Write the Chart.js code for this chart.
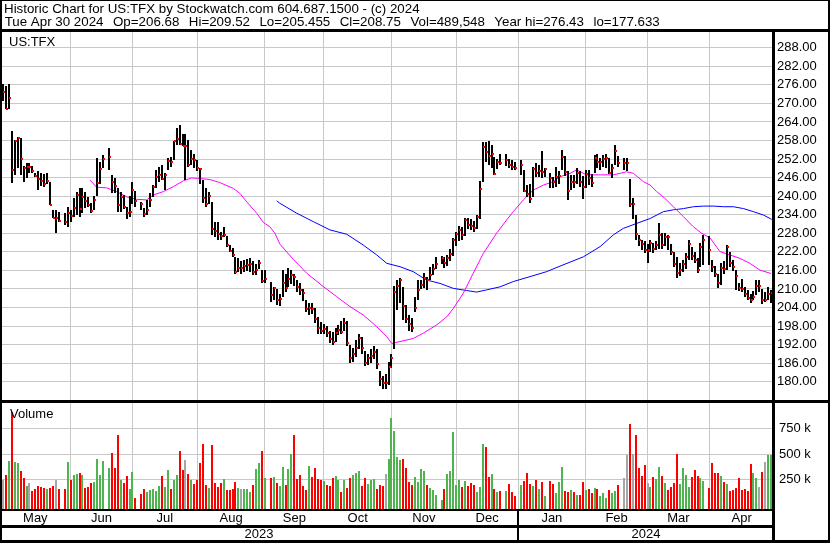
<!DOCTYPE html>
<html>
<head>
<meta charset="utf-8">
<script src="https://cdn.jsdelivr.net/npm/chart.js@4"></script>
<style>
  body { margin: 0; background: #fff; }
  #wrap { width: 830px; height: 543px; }
</style>
</head>
<body>
<div id="wrap"><canvas id="chart" width="830" height="543"></canvas></div>
<script>
// ---- header text ----
const headerLine1 = 'Historic Chart for US:TFX by Stockwatch.com 604.687.1500 - (c) 2024';
const headerFields = ['Tue Apr 30 2024', 'Op=206.68', 'Hi=209.52', 'Lo=205.455', 'Cl=208.75', 'Vol=489,548', 'Year hi=276.43', 'lo=177.633'];
const symbolLabel = 'US:TFX';
const volumeLabel = 'Volume';

// ---- calendar (one slot per weekday, holidays stay empty) ----
const firstDay = '2023-05-01';
const lastDay = '2024-04-30';
const holidays = ['2023-05-29', '2023-06-19', '2023-07-04', '2023-09-04', '2023-11-23',
  '2023-12-25', '2024-01-01', '2024-01-15', '2024-02-19', '2024-03-29'];
const monthNames = ['May', 'Jun', 'Jul', 'Aug', 'Sep', 'Oct', 'Nov', 'Dec', 'Jan', 'Feb', 'Mar', 'Apr'];
const yearNames = ['2023', '2024'];

// ---- daily values, one per trading day ----
const closes = [
  // May
  273.8, 268.3, 271.9, 248.6, 257.8, 258.9, 251.9, 249.2, 249.4, 249.4, 248.3, 246.6, 245.6, 245.0, 243.9, 245.0, 237.2, 233.0, 233.0, 232.0, 231.5, 234.7,
  // Jun
  233.7, 236.3, 240.5, 235.9, 239.9, 238.6, 237.0, 235.3, 238.8, 244.4, 248.7, 252.1, 252.8, 244.6, 243.3, 237.3, 239.6, 236.6, 234.5, 235.0, 242.0,
  // Jul
  238.6, 237.5, 234.2, 235.5, 238.8, 242.9, 246.3, 246.9, 245.7, 246.9, 251.5, 251.2, 257.8, 258.5, 256.9, 256.2, 256.2, 250.0, 252.1, 251.7,
  // Aug
  249.2, 248.7, 239.3, 237.5, 240.2, 229.4, 228.9, 227.7, 227.2, 227.6, 224.3, 222.4, 221.1, 215.5, 216.9, 216.9, 217.5, 217.8, 218.2, 215.6, 216.0, 218.5, 212.6,
  // Sep
  213.2, 208.1, 210.2, 206.4, 206.8, 211.8, 210.2, 213.3, 214.5, 213.8, 210.5, 209.7, 208.8, 203.4, 204.0, 203.4, 200.2, 197.5, 196.3, 196.9,
  // Oct
  195.9, 193.7, 193.0, 195.9, 196.7, 196.0, 199.1, 192.4, 187.6, 189.0, 191.0, 194.2, 190.8, 186.2, 187.7, 188.2, 189.7, 185.6, 181.0, 179.5, 179.5, 184.9,
  // Nov
  187.6, 209.1, 211.1, 212.9, 204.5, 200.4, 198.6, 197.5, 204.0, 209.7, 211.3, 213.7, 212.9, 214.5, 216.5, 218.1, 219.9, 218.5, 219.9, 221.2, 225.8,
  // Dec
  227.8, 229.07, 227.45, 232.3, 230.8, 230.5, 229.8, 233.2, 242.4, 256.0, 254.4, 253.0, 253.6, 247.2, 251.2, 250.8, 251.7, 250.1, 249.6, 249.2,
  // Jan
  250.1, 241.8, 240.7, 239.1, 248.9, 247.6, 248.2, 247.9, 248.8, 245.8, 244.5, 246.3, 246.4, 252.6, 247.9, 241.8, 244.7, 244.5, 247.4, 244.7, 242.9,
  // Feb
  247.2, 245.8, 244.2, 252.4, 251.0, 251.2, 252.1, 252.5, 247.6, 249.0, 254.7, 250.6, 250.6, 250.6, 237.5, 237.5, 227.8, 225.8, 224.5, 222.6,
  // Mar
  222.6, 224.8, 223.0, 224.2, 227.5, 224.2, 226.9, 226.7, 222.1, 218.1, 215.3, 216.1, 218.0, 220.4, 224.5, 220.8, 219.4, 216.1, 223.7, 225.8,
  // Apr
  222.6, 217.2, 214.8, 211.8, 216.7, 216.4, 223.7, 218.3, 217.0, 214.2, 210.4, 209.9, 208.4, 207.2, 206.4, 207.5, 211.1, 211.1, 206.4, 206.4, 208.4, 208.75
];
const highs = [
  276.43, 275.6, 276.3, 261.1, 258.2, 259.3, 258.9, 249.8, 250.8, 250.6, 249.8, 247.6, 248.1, 247.4, 247.1, 247.4, 244.7, 235.7, 235.5, 235.0, 234.7, 236.6,
  235.5, 239.3, 241.5, 242.8, 242.8, 241.5, 239.8, 237.7, 240.1, 252.2, 251.0, 253.3, 255.5, 246.9, 246.0, 242.5, 241.5, 240.4, 236.6, 240.0, 244.6,
  241.8, 238.2, 236.1, 238.8, 240.9, 243.6, 248.5, 249.5, 250.1, 247.4, 252.2, 252.8, 257.8, 262.0, 263.0, 260.1, 260.1, 258.2, 255.0, 253.6,
  251.7, 249.0, 245.2, 242.5, 241.2, 238.2, 231.5, 231.5, 228.5, 229.9, 227.0, 224.2, 223.2, 220.4, 219.9, 219.0, 219.5, 219.8, 220.0, 219.0, 218.0, 219.5, 216.1,
  216.1, 212.4, 210.7, 210.0, 208.5, 216.0, 215.0, 216.7, 216.0, 215.0, 213.0, 211.8, 210.0, 206.4, 205.4, 205.5, 203.8, 201.0, 199.2, 198.6,
  198.0, 196.5, 196.0, 197.5, 198.5, 199.5, 200.5, 199.5, 192.0, 191.0, 193.5, 195.3, 194.5, 190.0, 189.0, 190.5, 191.5, 190.5, 183.5, 182.0, 182.5, 186.5,
  189.0, 211.0, 212.9, 213.4, 210.7, 204.8, 201.6, 200.5, 207.5, 212.9, 212.8, 215.3, 214.0, 217.2, 218.2, 220.3, 220.8, 220.2, 221.0, 223.0, 226.5,
  228.5, 230.5, 230.0, 233.0, 233.0, 232.5, 232.0, 234.0, 245.0, 257.6, 257.6, 257.9, 256.6, 252.8, 251.9, 253.5, 253.5, 251.9, 251.7, 251.2,
  251.7, 248.5, 243.6, 243.9, 249.5, 250.6, 250.1, 254.7, 249.0, 247.4, 246.3, 249.5, 248.0, 255.0, 253.0, 248.0, 247.0, 247.0, 249.0, 248.0, 246.5,
  248.5, 248.5, 247.2, 253.3, 253.5, 252.5, 253.3, 253.5, 252.2, 250.5, 256.5, 253.0, 252.5, 252.5, 245.5, 239.5, 234.0, 227.5, 226.0, 225.5,
  224.5, 226.0, 225.0, 225.5, 231.2, 228.0, 228.0, 227.5, 224.5, 221.8, 220.5, 218.5, 219.5, 221.5, 225.8, 223.5, 222.0, 220.0, 224.8, 227.5,
  227.0, 219.5, 217.3, 215.0, 218.5, 219.0, 224.2, 222.0, 219.5, 216.0, 212.0, 213.3, 210.6, 209.8, 208.5, 209.5, 212.8, 212.8, 210.0, 209.0, 210.7, 209.52
];
const lows = [
  270.9, 268.1, 268.3, 244.4, 246.9, 249.0, 246.9, 244.7, 245.8, 247.4, 247.4, 246.3, 242.0, 243.3, 243.1, 244.1, 237.0, 232.8, 228.0, 231.8, 230.7, 230.1,
  231.7, 233.4, 233.9, 233.4, 234.5, 236.1, 236.6, 234.5, 235.5, 240.1, 244.0, 249.0, 248.5, 240.9, 240.9, 235.0, 235.0, 236.0, 232.5, 233.4, 237.5,
  236.6, 235.5, 233.4, 233.9, 236.6, 239.8, 242.5, 244.7, 245.3, 242.0, 248.5, 249.5, 251.7, 256.6, 256.6, 256.2, 245.2, 249.5, 250.1, 249.0,
  248.0, 244.1, 237.7, 236.6, 237.5, 227.5, 226.9, 225.8, 225.8, 226.9, 223.7, 221.8, 220.5, 215.0, 215.6, 215.0, 215.6, 215.8, 215.5, 214.5, 214.5, 216.5, 211.8,
  211.8, 205.9, 206.4, 204.8, 204.5, 207.5, 209.0, 210.5, 211.5, 210.9, 209.0, 208.0, 206.0, 202.5, 201.5, 201.8, 199.0, 195.5, 195.6, 195.3,
  194.5, 192.5, 192.0, 193.0, 195.0, 195.5, 196.5, 191.5, 186.0, 186.5, 188.0, 190.5, 189.0, 185.0, 185.5, 186.0, 187.5, 184.0, 178.5, 177.8, 177.633, 179.0,
  184.5, 190.5, 203.2, 205.4, 200.0, 198.9, 196.5, 196.0, 202.7, 206.4, 210.1, 210.3, 209.7, 213.0, 214.5, 216.5, 218.0, 216.8, 217.5, 219.2, 220.8,
  223.9, 225.5, 226.0, 227.0, 229.5, 229.0, 228.5, 229.5, 232.5, 244.7, 251.0, 250.1, 249.1, 246.9, 248.7, 250.1, 249.8, 249.0, 248.5, 248.5,
  246.9, 241.5, 239.8, 237.7, 239.8, 246.1, 246.3, 245.8, 246.3, 242.6, 242.6, 243.1, 244.0, 248.5, 246.5, 238.8, 242.0, 242.5, 244.0, 243.0, 239.0,
  242.5, 243.5, 243.0, 247.4, 249.0, 248.5, 249.5, 249.0, 247.2, 246.0, 250.1, 249.5, 248.5, 248.0, 236.5, 232.5, 226.0, 224.0, 222.5, 221.5,
  218.3, 222.0, 221.5, 222.5, 223.0, 223.0, 224.0, 222.5, 221.0, 217.0, 213.4, 214.2, 215.5, 216.5, 219.5, 219.5, 218.5, 215.3, 217.0, 217.8,
  217.8, 215.5, 214.0, 210.2, 211.3, 215.0, 216.2, 217.0, 215.8, 209.7, 209.5, 209.0, 207.5, 206.3, 205.5, 206.4, 208.0, 209.0, 205.3, 205.8, 206.5, 205.455
];
// volume in thousands of shares
const volumes = [
  249, 297, 433, 911, 423, 417, 336, 268, 191, 216, 142, 162, 191, 181, 171, 162, 171, 191, 249, 162, 162, 423,
  249, 297, 307, 317, 297, 171, 181, 220, 229, 452, 297, 433, 365, 510, 365, 685, 249, 220, 288, 162, 326,
  74, 113, 162, 133, 152, 162, 142, 191, 288, 181, 346, 162, 249, 297, 530, 346, 443, 307, 249, 210,
  249, 413, 598, 200, 171, 588, 220, 181, 220, 258, 152, 152, 162, 229, 171, 162, 162, 162, 133, 200, 355, 413, 530,
  268, 268, 278, 220, 191, 375, 200, 355, 501, 685, 258, 297, 191, 152, 384, 278, 365, 258, 249, 239,
  200, 191, 268, 288, 249, 133, 249, 171, 268, 297, 317, 336, 191, 268, 210, 249, 258, 162, 200, 191, 307, 452,
  850, 724, 472, 443, 452, 365, 229, 200, 278, 229, 355, 336, 200, 171, 152, 103, 55, 162, 307, 336, 714,
  200, 249, 181, 239, 191, 220, 200, 133, 178, 598, 569, 278, 307, 162, 133, 142, 142, 210, 133, 94,
  200, 239, 317, 210, 191, 249, 162, 229, 94, 239, 210, 123, 229, 375, 145, 133, 152, 133, 103, 103, 229,
  152, 162, 123, 175, 162, 94, 123, 74, 152, 123, 142, 200, 268, 491, 791, 501, 685, 365, 288, 394,
  220, 181, 278, 258, 375, 288, 220, 152, 181, 220, 501, 210, 365, 297, 181, 278, 346, 288, 268, 239,
  171, 417, 317, 317, 288, 233, 210, 142, 152, 171, 268, 152, 162, 142, 404, 317, 268, 184, 326, 426, 491, 490
];
// volume bar colour as read: g = up day, r = down day, n = unchanged
const volumeDirs = (
  'nrgrggrrgnrrrrrgrrnrrg' +
  'rggrgrrrggggg' + 'rrrgrrgg' +
  'rrrgggggrggrggrrnrgr' +
  'rrrrgrrrrgrrrrgngggrggr' +
  'grgrggrggrrrrrgrrrrg' +
  'rrrggrgrrgggrrgggrrrng' +
  'ggggrrrrggggrggg' + 'grggg' +
  'ggrgrrrgggrrgrgr' + 'grrr' +
  'grrrgrgrg' + 'rrgggrrgrgrr' +
  'grrgrgggrggr' + 'nnrnrrrr' +
  'ngrggrgrrrrggggrrrgg' +
  'rrrrgrgrrrrrrrrggnrngg'
).split('');

// ---- moving averages (slot, value) ----
const maShortSlots = [29.6, 31.8, 35.2, 38.6, 42.0, 45.4, 48.8, 51.1, 54.5, 57.9, 61.3, 64.1, 67.0, 70.3, 73.7, 78.3, 80.5, 82.8, 86.2, 88.5, 90.7, 92.4, 94.1, 98.6, 103.2, 108.8, 113.4, 117.9, 122.4, 127.0, 130.4, 132.1, 134.9, 139.4, 142.8, 147.4, 150.8, 153.0, 156.4, 159.8, 163.2, 167.7, 171.1, 173.4, 176.8, 180.2, 183.6, 187.0, 189.3, 192.7, 194.9, 198.3, 202.9, 207.4, 209.7, 211.9, 214.2, 217.6, 219.9, 222.1, 224.9, 227.8, 231.2, 234.6, 237.4, 240.2, 243.6, 247.0, 250.4, 253.8, 257.2, 261.0];
const maShortValues = [245.2, 242.9, 242.7, 241.5, 239.8, 239.0, 238.8, 240.4, 241.5, 243.1, 245.0, 245.9, 245.7, 245.4, 244.4, 242.5, 240.9, 238.2, 234.5, 231.5, 230.1, 228.0, 224.5, 219.6, 215.1, 210.8, 207.5, 204.3, 201.6, 197.8, 194.6, 192.4, 193.0, 194.0, 195.7, 198.4, 201.0, 203.7, 208.6, 215.1, 221.5, 228.0, 232.3, 235.0, 238.8, 242.0, 243.6, 244.7, 246.3, 247.4, 248.5, 246.9, 246.9, 246.9, 247.4, 247.9, 247.4, 244.7, 243.6, 241.5, 239.3, 236.6, 233.4, 230.1, 228.0, 226.6, 222.1, 221.0, 219.9, 218.3, 216.1, 215.0];
const maLongSlots = [93.0, 94.1, 99.8, 105.4, 111.1, 116.8, 122.4, 127.0, 130.4, 134.9, 139.4, 143.9, 148.5, 153.0, 157.5, 160.9, 164.3, 168.9, 173.4, 179.1, 184.7, 189.3, 197.2, 202.9, 207.4, 210.8, 215.3, 219.9, 224.4, 227.8, 231.2, 234.6, 238.0, 241.4, 244.8, 248.2, 251.6, 255.0, 258.4, 261.2];
const maLongValues = [238.5, 237.7, 234.5, 231.8, 229.1, 227.7, 224.2, 221.0, 218.3, 217.2, 215.6, 212.9, 211.8, 210.2, 209.5, 209.0, 209.7, 210.7, 212.4, 214.0, 215.6, 217.4, 220.4, 223.7, 227.5, 229.6, 231.2, 232.8, 235.0, 235.6, 236.0, 236.6, 236.8, 236.8, 236.6, 236.6, 236.0, 235.0, 233.9, 232.5];

// ---- axis ticks ----
const priceTicks = [180, 186, 192, 198, 204, 210, 216, 222, 228, 234, 240, 246, 252, 258, 264, 270, 276, 282, 288];
const volumeTicks = [250000, 500000, 750000];

// ---- build slots ----
function iso(d) { return d.toISOString().slice(0, 10); }
const slotDates = [];
for (let t = Date.parse(firstDay); t <= Date.parse(lastDay); t += 86400000) {
  const wd = new Date(t).getUTCDay();
  if (wd !== 0 && wd !== 6) slotDates.push(iso(new Date(t)));
}
const tradeSlots = [];
slotDates.forEach((d, i) => { if (!holidays.includes(d)) tradeSlots.push(i); });
if (tradeSlots.length !== closes.length) console.error('length mismatch', tradeSlots.length, closes.length);

// month grid lines sit on the slot of the 1st (weekend -> Friday before)
const monthGridSlots = [];
for (let m = 1; m < 12; m++) {
  let d = new Date(Date.UTC(2023, 4 + m, 1));
  while (d.getUTCDay() === 0 || d.getUTCDay() === 6) d = new Date(d.getTime() - 86400000);
  monthGridSlots.push(slotDates.indexOf(iso(d)));
}
const yearSlot = slotDates.indexOf('2024-01-01');

const X_MIN = -1.02, X_MAX = 261.98;
const bounds = [X_MIN, ...monthGridSlots, X_MAX];
const monthMid = monthNames.map((n, i) => (bounds[i] + bounds[i + 1]) / 2);
const yearMid = [(X_MIN + yearSlot) / 2, (yearSlot + X_MAX) / 2];

const PRICE_MIN = 174.1, PRICE_MAX = 293.1;
const VOL_MIN = -42000, VOL_MAX = 1024000;

const rangePts = tradeSlots.map((s, i) => ({ x: s, y: [lows[i], highs[i]] }));
const closePts = tradeSlots.map((s, i) => ({ x: s, y: closes[i] }));
const volPts = tradeSlots.map((s, i) => ({ x: s, y: volumes[i] * 1000 }));
const dirColor = { g: '#4fb34f', r: '#ff0000', n: '#a6a6a6' };
const volColors = volumeDirs.map(d => dirColor[d]);
const maShortPts = maShortSlots.map((s, i) => ({ x: s, y: maShortValues[i] }));
const maLongPts = maLongSlots.map((s, i) => ({ x: s, y: maLongValues[i] }));

// close tick: small red mark on the right side of each bar
const closeTick = document.createElement('canvas');
closeTick.width = 4; closeTick.height = 2;
const tctx = closeTick.getContext('2d');
tctx.fillStyle = '#ff0000';
tctx.fillRect(2, 0, 2, 2);

const FONT = '"Liberation Sans", Arial, Helvetica, sans-serif';
Chart.defaults.font.family = FONT;
Chart.defaults.color = '#000';

// snap bar and tick elements to whole pixels so they stay crisp
const snapPlugin = {
  id: 'snap',
  beforeDatasetsDraw(chart) {
    chart.data.datasets.forEach((ds, i) => {
      if (!ds.snap) return;
      chart.getDatasetMeta(i).data.forEach(el => {
        el.x = Math.round(el.x);
        el.y = Math.round(el.y);
        if (typeof el.base === 'number') el.base = Math.round(el.base);
      });
    });
  }
};

const framePlugin = {
  id: 'frame',
  afterDraw(chart) {
    const c = chart.ctx;
    const a = chart.chartArea;
    const volTop = chart.scales.yv.top;
    const xYear = chart.scales.x.getPixelForValue(yearSlot);
    c.save();
    c.fillStyle = '#000';
    c.fillRect(0, 0, 830, 1);
    c.fillRect(0, 29, 830, 3);
    c.fillRect(0, 0, 2, 543);
    c.fillRect(828, 0, 2, 543);
    c.fillRect(0, 540, 830, 3);
    c.fillRect(0, volTop, 830, 3);
    c.fillRect(a.right - 2, 29, 3, 514);
    c.fillRect(0, a.bottom - 1, a.right, 2);
    c.fillRect(0, 525, a.right, 3);
    c.fillRect(Math.round(xYear) - 1, a.bottom, 2, 540 - a.bottom);

    c.textAlign = 'left';
    c.textBaseline = 'alphabetic';
    c.font = '13.33px ' + FONT;
    c.fillText(headerLine1, 4, 13);
    let x = 4.7;
    headerFields.forEach(f => {
      c.fillText(f, x, 26);
      x += c.measureText(f).width + 9.5;
    });
    c.font = '13px ' + FONT;
    c.fillText(symbolLabel, 9, 46);
    c.fillText(volumeLabel, 10, volTop + 18);
    c.restore();
  }
};

const commonX = { type: 'linear', position: 'bottom', min: X_MIN, max: X_MAX, offset: false };

new Chart(document.getElementById('chart'), {
  data: {
    datasets: [
      { type: 'line', data: maShortPts, borderColor: '#ff00ff', borderWidth: 1, pointRadius: 0, tension: 0, order: 5 },
      { type: 'line', data: maLongPts, borderColor: '#0000ff', borderWidth: 1, pointRadius: 0, tension: 0, order: 5 },
      { type: 'bar', data: rangePts, backgroundColor: '#000', barThickness: 2, grouped: false, inflateAmount: 0, order: 3, snap: true },
      { type: 'line', data: closePts, showLine: false, pointStyle: closeTick, pointRadius: 2, order: 1, snap: true },
      { type: 'bar', data: volPts, yAxisID: 'yv', backgroundColor: volColors, barThickness: 2, grouped: false,
        inflateAmount: 0, base: VOL_MIN, order: 4, snap: true }
    ]
  },
  options: {
    responsive: false,
    animation: false,
    devicePixelRatio: 1,
    layout: { padding: { top: 32, left: 0, right: 0, bottom: 0 }, autoPadding: false },
    plugins: { legend: { display: false }, tooltip: { enabled: false } },
    scales: {
      x: Object.assign({}, commonX, {
        weight: 0,
        afterBuildTicks: s => { s.ticks = monthGridSlots.map(v => ({ value: v })); },
        afterFit: s => { s.height = 0; },
        ticks: { display: false },
        grid: { color: '#c8c8c8', lineWidth: 1, drawTicks: false, offset: false },
        border: { display: false }
      }),
      xm: Object.assign({}, commonX, {
        weight: 1,
        afterBuildTicks: s => { s.ticks = monthMid.map(v => ({ value: v })); },
        afterFit: s => { s.height = 17; },
        ticks: { callback: (v, i) => monthNames[i], autoSkip: false, maxRotation: 0, padding: 1, font: { size: 13 }, color: '#000' },
        grid: { display: false, drawTicks: false },
        border: { display: false }
      }),
      xy: Object.assign({}, commonX, {
        weight: 2,
        afterBuildTicks: s => { s.ticks = yearMid.map(v => ({ value: v })); },
        afterFit: s => { s.height = 16; },
        ticks: { callback: (v, i) => yearNames[i], autoSkip: false, maxRotation: 0, padding: 0, font: { size: 13 }, color: '#000' },
        grid: { display: false, drawTicks: false },
        border: { display: false }
      }),
      y: {
        type: 'linear', position: 'right', stack: 'panels', stackWeight: 368, weight: 0,
        min: PRICE_MIN, max: PRICE_MAX,
        afterBuildTicks: s => { s.ticks = priceTicks.map(v => ({ value: v })); },
        afterFit: s => { s.width = 56; },
        ticks: { callback: v => v.toFixed(2), autoSkip: false, padding: 3, font: { size: 13 }, color: '#000' },
        grid: { color: '#c8c8c8', lineWidth: 1, drawTicks: false },
        border: { display: false }
      },
      yv: {
        type: 'linear', position: 'right', stack: 'panels', stackWeight: 110, weight: 1,
        min: VOL_MIN, max: VOL_MAX,
        afterBuildTicks: s => { s.ticks = volumeTicks.map(v => ({ value: v })); },
        afterFit: s => { s.width = 56; },
        ticks: { callback: v => (v / 1000) + ' k', autoSkip: false, padding: 5, font: { size: 13 }, color: '#000' },
        grid: { color: '#c8c8c8', lineWidth: 1, drawTicks: false },
        border: { display: false }
      }
    }
  },
  plugins: [snapPlugin, framePlugin]
});
</script>
</body>
</html>
